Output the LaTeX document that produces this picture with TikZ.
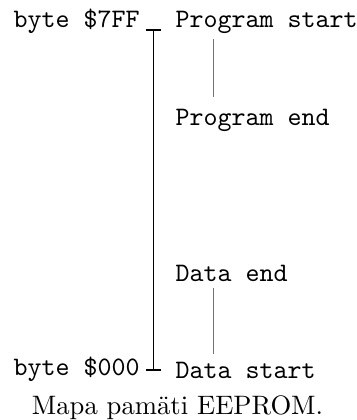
\documentclass[tikz,border=0pt]{standalone}
\begin{document}
\begin{tikzpicture}[x=0.375pt,y=-0.375pt,
  lbl/.style={font=\ttfamily, inner sep=0pt, anchor=base west},
  mainline/.style={draw=black, line width=0.4pt},
  rangeline/.style={draw=black!55, line width=0.55pt},
  captiontext/.style={font=\rmfamily, inner sep=0pt, anchor=base}]
\useasboundingbox (0,0) rectangle (357,420);
% labels
\node[lbl] (hi) at (13,27.5) {byte \$7FF};
\node[lbl] (lo) at (13,375.2) {byte \$000};
\node[lbl] (ps) at (175,27.5) {Program start};
\node[lbl] (pe) at (175,126) {Program end};
\node[lbl] (de) at (175,281.5) {Data end};
\node[lbl] (ds) at (175,378) {Data start};
\node[captiontext] (caption) at (177.5,414) {Mapa pamäti EEPROM.};
% main axis
\coordinate (top) at (153.3,30);
\coordinate (bot) at (153.3,370);
\coordinate (topl) at (145.8,30);
\coordinate (topr) at (160.8,30);
\coordinate (botl) at (145.8,370);
\coordinate (botr) at (160.8,370);
\draw[mainline] (top) -- (bot);
\draw[mainline] (topl) -- (topr);
\draw[mainline] (botl) -- (botr);
% program and data ranges
\coordinate (p1) at (213.5,39.5);
\coordinate (p2) at (213.5,97);
\coordinate (d1) at (213.5,288);
\coordinate (d2) at (213.5,354);
\draw[rangeline] (p1) -- (p2);
\draw[rangeline] (d1) -- (d2);
\end{tikzpicture}
\end{document}
